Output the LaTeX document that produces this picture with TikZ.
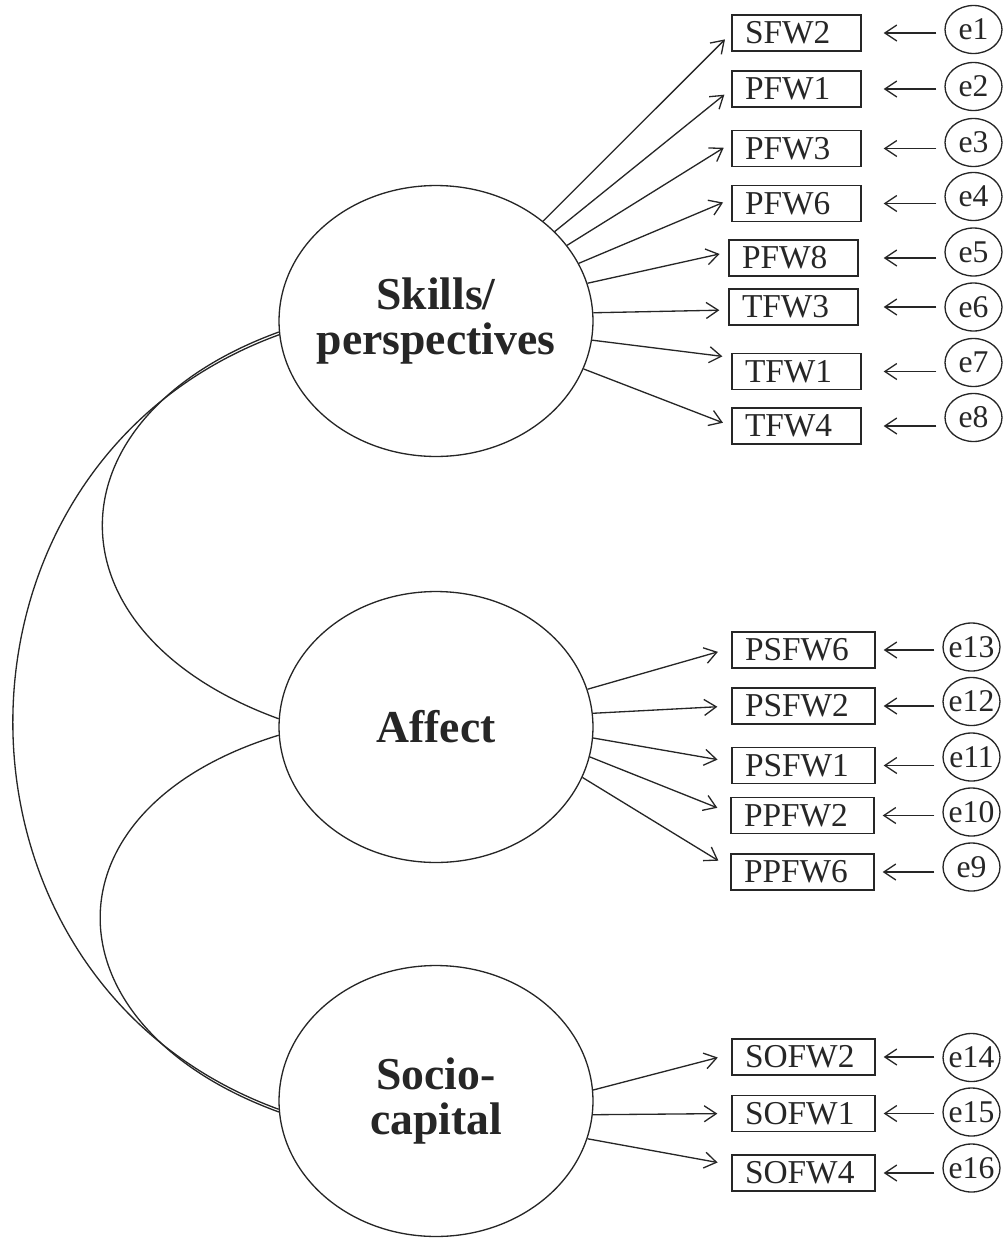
\documentclass[tikz,border=0pt]{standalone}
\usepackage{fontspec}
\setmainfont{Liberation Serif}
\usetikzlibrary{shapes.geometric}
\usetikzlibrary{arrows.meta}
\tikzset{>={Straight Barb[length=2.4mm,width=3.2mm]}}
\tikzset{latent/.style={draw,ellipse,minimum width=6.28cm,minimum height=5.42cm,inner sep=-14pt,align=center,font=\bfseries\fontsize{26}{26}\selectfont}}
\tikzset{ind/.style={draw,rectangle,text width=#1,inner xsep=0.26cm,inner ysep=0pt,minimum height=0.72cm,align=left,font=\fontsize{19}{19}\selectfont},ind/.default=2.06cm}
\tikzset{err/.style={draw,ellipse,minimum width=1.14cm,minimum height=0.96cm,inner xsep=-4pt,inner ysep=-4pt,font=\fontsize{18}{18}\selectfont}}
\tikzset{load/.style={->,shorten >=#1},load/.default=0.18cm}
\tikzset{resid/.style={->,shorten <=0.16cm,shorten >=#1},resid/.default=0.44cm}

\begin{document}
\begin{tikzpicture}[x=0.02cm,y=-0.02cm,line width=0.75pt,color=black!85]
\useasboundingbox (0,0) rectangle (1007,1238);

% factors
\node[latent] (skills) at (436,321) {Skills/\\perspectives};
\node[latent] (affect) at (436,727) {Affect};
\node[latent] (socio) at (436,1101) {Socio-\\capital};

% items
\node[ind] (SFW2) at (796.5,33) {SFW2};
\node[ind] (PFW1) at (796.5,89) {PFW1};
\node[ind] (PFW3) at (796.5,148.5) {PFW3};
\node[ind] (PFW6) at (796.5,203.5) {PFW6};
\node[ind] (PFW8) at (793.5,258) {PFW8};
\node[ind] (TFW3) at (793.5,307) {TFW3};
\node[ind] (TFW1) at (796.5,371.5) {TFW1};
\node[ind] (TFW4) at (796.5,426) {TFW4};

\node[ind=2.34cm] (PSFW6) at (803.5,650) {PSFW6};
\node[ind=2.34cm] (PSFW2) at (803.5,706) {PSFW2};
\node[ind=2.34cm] (PSFW1) at (803.5,765.5) {PSFW1};
\node[ind=2.34cm] (PPFW2) at (802.5,815.5) {PPFW2};
\node[ind=2.34cm] (PPFW6) at (802.5,872) {PPFW6};

\node[ind=2.34cm] (SOFW2) at (803.5,1057) {SOFW2};
\node[ind=2.34cm] (SOFW1) at (803.5,1113.5) {SOFW1};
\node[ind=2.34cm] (SOFW4) at (803.5,1173) {SOFW4};

% errors
\node[err] (e1) at (973.5,29.5) {e1};
\node[err] (e2) at (973.5,86.5) {e2};
\node[err] (e3) at (973.5,142.5) {e3};
\node[err] (e4) at (973.5,196.5) {e4};
\node[err] (e5) at (973.5,252) {e5};
\node[err] (e6) at (973.5,307) {e6};
\node[err] (e7) at (973.5,362.5) {e7};
\node[err] (e8) at (973.5,417.5) {e8};

\node[err] (e13) at (971.5,647) {e13};
\node[err] (e12) at (971.5,701.5) {e12};
\node[err] (e11) at (971.5,757) {e11};
\node[err] (e10) at (971.5,812) {e10};
\node[err] (e9) at (971.5,867) {e9};

\node[err] (e14) at (971.5,1057.5) {e14};
\node[err] (e15) at (971.5,1112) {e15};
\node[err] (e16) at (971.5,1168) {e16};

% loadings
\draw[load] (skills.43.4) -- (SFW2.west);
\draw[load] (skills.37.1) -- (PFW1.west);
\draw[load] (skills.30.1) -- ([yshift=0.11cm]PFW3.west);
\draw[load] (skills.22.4) -- ([yshift=0.09cm]PFW6.west);
\draw[load] (skills.14.1) -- ([yshift=0.12cm]PFW8.west);
\draw[load] (skills.3.3) -- ([yshift=-0.06cm]TFW3.west);
\draw[load] (skills.353.8) -- ([yshift=0.28cm]TFW1.west);
\draw[load] (skills.342.5) -- (TFW4.west);

\draw[load=0.28cm] (affect.14) -- ([yshift=0.04cm]PSFW6.west);
\draw[load=0.28cm] (affect.5.1) -- (PSFW2.west);
\draw[load=0.28cm] (affect.356.4) -- ([yshift=0.07cm]PSFW1.west);
\draw[load=0.28cm] (affect.349) -- ([yshift=0.05cm]PPFW2.west);
\draw[load=0.28cm] (affect.341.2) -- ([yshift=0.08cm]PPFW6.west);

\draw[load=0.28cm] (socio.4.4) -- ([yshift=0.06cm]SOFW2.west);
\draw[load=0.28cm] (socio.355.3) -- (SOFW1.west);
\draw[load=0.28cm] (socio.346.8) -- ([yshift=0.16cm]SOFW4.west);

% residuals
\draw[resid] (e1.west |- SFW2) -- (SFW2.east);
\draw[resid] (e2.west |- PFW1) -- (PFW1.east);
\draw[resid] (e3.west |- PFW3) -- (PFW3.east);
\draw[resid] (e4.west |- PFW6) -- (PFW6.east);
\draw[resid=0.5cm] (e5.west |- PFW8) -- (PFW8.east);
\draw[resid=0.5cm] (e6.west |- TFW3) -- (TFW3.east);
\draw[resid] (e7.west |- TFW1) -- (TFW1.east);
\draw[resid] (e8.west |- TFW4) -- (TFW4.east);

\draw[resid=0.16cm] (e13.west |- PSFW6) -- (PSFW6.east);
\draw[resid=0.16cm] (e12.west |- PSFW2) -- (PSFW2.east);
\draw[resid=0.16cm] (e11.west |- PSFW1) -- (PSFW1.east);
\draw[resid=0.16cm] (e10.west |- PPFW2) -- (PPFW2.east);
\draw[resid=0.16cm] (e9.west |- PPFW6) -- (PPFW6.east);

\draw[resid=0.16cm] (e14.west |- SOFW2) -- (SOFW2.east);
\draw[resid=0.16cm] (e15.west |- SOFW1) -- (SOFW1.east);
\draw[resid=0.16cm] (e16.west |- SOFW4) -- (SOFW4.east);

% covariances
\draw (skills.184.5) to[out=200,in=160,looseness=1.66] (affect.177.5);
\draw (affect.183.6) to[out=197,in=160,looseness=1.71] (socio.184.7);
\draw (skills.185) to[out=200,in=160,looseness=1.25] (socio.183.6);
\end{tikzpicture}
\end{document}
